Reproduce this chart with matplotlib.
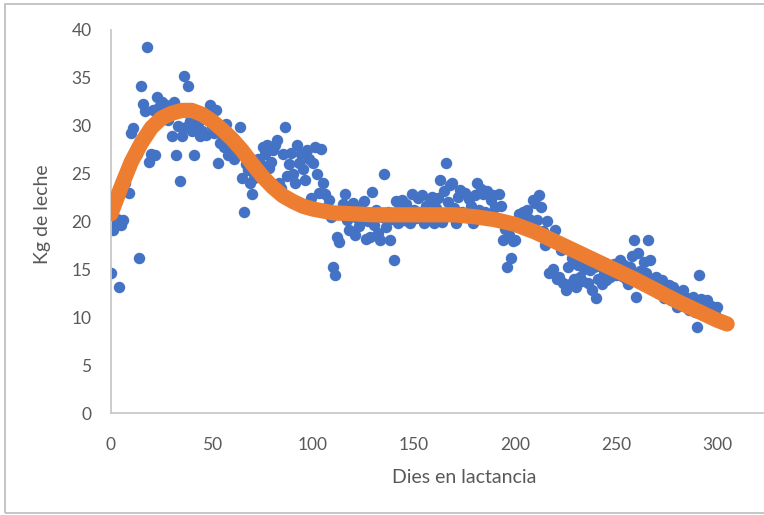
import matplotlib
matplotlib.use("Agg")
import matplotlib.pyplot as plt
from matplotlib.patches import Rectangle

# milk per day of lactation (one reading per day, day 0..300)
kg_leche = [
    14.6, 19.1, 19.5, 20.3, 13.2, 19.6, 20.2, 24.0, 25.0, 23.0,
    29.2, 29.8, 27.3, 27.0, 16.2, 34.1, 32.3, 31.5, 38.2, 26.2,
    27.0, 31.6, 26.9, 33.0, 32.0, 32.5, 31.0, 32.2, 30.6, 31.3,
    28.9, 32.5, 26.9, 30.0, 24.2, 28.9, 35.2, 29.9, 34.1, 30.5,
    29.5, 26.9, 31.0, 30.3, 28.9, 29.4, 31.2, 29.0, 30.6, 32.2,
    30.0, 29.2, 31.6, 26.1, 28.2, 29.0, 27.8, 30.2, 26.9, 28.5,
    27.5, 26.5, 28.0, 27.0, 29.9, 24.5, 21.0, 26.0, 25.4, 24.0,
    22.9, 24.5, 25.0, 26.5, 26.1, 27.8, 27.0, 28.0, 25.6, 26.2,
    27.5, 28.0, 28.5, 24.0, 23.5, 27.0, 29.9, 24.7, 26.0, 27.2,
    25.0, 24.0, 28.0, 26.1, 27.0, 25.5, 24.3, 27.5, 26.5, 22.5,
    26.1, 27.8, 25.0, 23.0, 27.6, 24.0, 22.9, 21.5, 22.2, 20.5,
    15.3, 14.4, 18.4, 17.9, 20.8, 21.8, 22.9, 20.2, 19.1, 21.0,
    21.9, 18.6, 20.4, 19.5, 21.4, 22.1, 18.2, 20.0, 18.4, 23.1,
    19.6, 21.2, 18.8, 18.1, 20.5, 25.0, 19.4, 21.0, 18.1, 20.3,
    16.0, 22.1, 19.8, 21.5, 22.2, 20.2, 21.8, 20.0, 19.8, 22.9,
    21.2, 20.4, 22.5, 21.0, 22.8, 19.8, 21.6, 20.9, 22.0, 22.6,
    19.8, 21.4, 22.5, 24.3, 19.9, 23.2, 26.1, 22.0, 23.8, 24.0,
    21.4, 19.8, 22.6, 23.3, 21.0, 23.0, 20.5, 22.4, 21.6, 19.8,
    22.8, 24.0, 21.2, 23.4, 22.9, 21.0, 23.2, 20.8, 22.2, 22.8,
    21.5, 20.4, 22.9, 21.6, 18.1, 19.2, 15.3, 18.6, 16.2, 18.0,
    18.1, 19.8, 20.8, 20.0, 21.0, 19.4, 21.2, 20.3, 19.0, 22.2,
    21.9, 20.2, 22.8, 21.5, 19.0, 17.5, 20.0, 14.6, 18.2, 15.0,
    19.1, 14.0, 14.2, 17.0, 13.6, 12.8, 15.2, 13.5, 16.2, 14.0,
    13.2, 15.5, 14.2, 13.8, 15.0, 16.0, 13.6, 14.9, 12.8, 15.2,
    12.0, 14.0, 15.4, 13.5, 14.6, 13.9, 15.0, 14.2, 14.6, 15.6,
    14.4, 15.2, 16.0, 14.3, 15.5, 14.0, 13.5, 15.3, 16.4, 18.1,
    12.1, 16.7, 14.8, 13.6, 15.8, 14.6, 18.1, 16.0, 14.0, 13.2,
    14.2, 12.5, 13.0, 13.9, 12.0, 12.1, 13.4, 11.8, 13.2, 12.4,
    11.1, 12.6, 11.4, 12.8, 11.6, 12.0, 10.8, 11.5, 12.1, 10.6,
    9.0, 14.4, 11.9, 11.5, 10.7, 11.8, 10.4, 11.2, 11.1, 10.3,
    11.1,
]
dies = list(range(len(kg_leche)))

# polynomial trend line
dies_tend = [0, 5, 10, 15, 20, 25, 30, 35, 40, 45, 50, 55, 60, 65, 70, 75,
             80, 85, 90, 95, 100, 105, 110, 120, 130, 140, 150, 160, 170,
             180, 190, 200, 210, 220, 230, 240, 250, 260, 270, 280, 290,
             300, 305]
kg_tend = [20.8, 23.6, 26.2, 28.2, 29.8, 30.8, 31.3, 31.6, 31.6, 31.2, 30.5,
           29.6, 28.6, 27.4, 26.0, 24.7, 23.6, 22.7, 22.1, 21.6, 21.3, 21.1,
           20.9, 20.8, 20.7, 20.7, 20.7, 20.7, 20.7, 20.5, 20.2, 19.7, 18.9,
           17.9, 16.9, 15.9, 14.9, 13.9, 12.8, 11.7, 10.7, 9.7, 9.3]

x_ticks = [0, 50, 100, 150, 200, 250, 300]
y_ticks = [0, 5, 10, 15, 20, 25, 30, 35, 40]

plt.rcParams['font.family'] = ['Lato', 'DejaVu Sans']
gris = '#595959'

fig = plt.figure(figsize=(7.64, 5.15), dpi=100)
ax = fig.add_axes([111 / 764, 1 - 413 / 515, 707 / 764, 383 / 515])

ax.scatter(dies, kg_leche, s=68, color='#4472C4', zorder=2, linewidths=0)
ax.plot(dies_tend, kg_tend, color='#ED7D31', lw=11, solid_capstyle='round',
        solid_joinstyle='round', zorder=3)

ax.set_xlim(0, 350)
ax.set_ylim(0, 40)
ax.set_xticks(x_ticks)
ax.set_yticks(y_ticks)
ax.tick_params(length=0, labelsize=12.5, labelcolor=gris)
ax.tick_params(axis='x', pad=17)
ax.tick_params(axis='y', pad=14)

for s in ['top', 'right']:
    ax.spines[s].set_visible(False)
for s in ['left', 'bottom']:
    ax.spines[s].set_color('#C8C8C8')
    ax.spines[s].set_linewidth(1.3)

ax.set_xlabel('Dies en lactancia', fontsize=14, color=gris, labelpad=12)
ax.set_ylabel('Kg de leche', fontsize=14, color=gris, labelpad=12)
ax.yaxis.set_label_coords(-0.085, 0.52)

# chart frame
fig.patches.append(Rectangle((5 / 764, 2 / 515), 1.0, 509 / 515,
                             transform=fig.transFigure, fill=False,
                             edgecolor='#C0C0C0', lw=1.3))

fig.savefig('out.png', dpi=100)
